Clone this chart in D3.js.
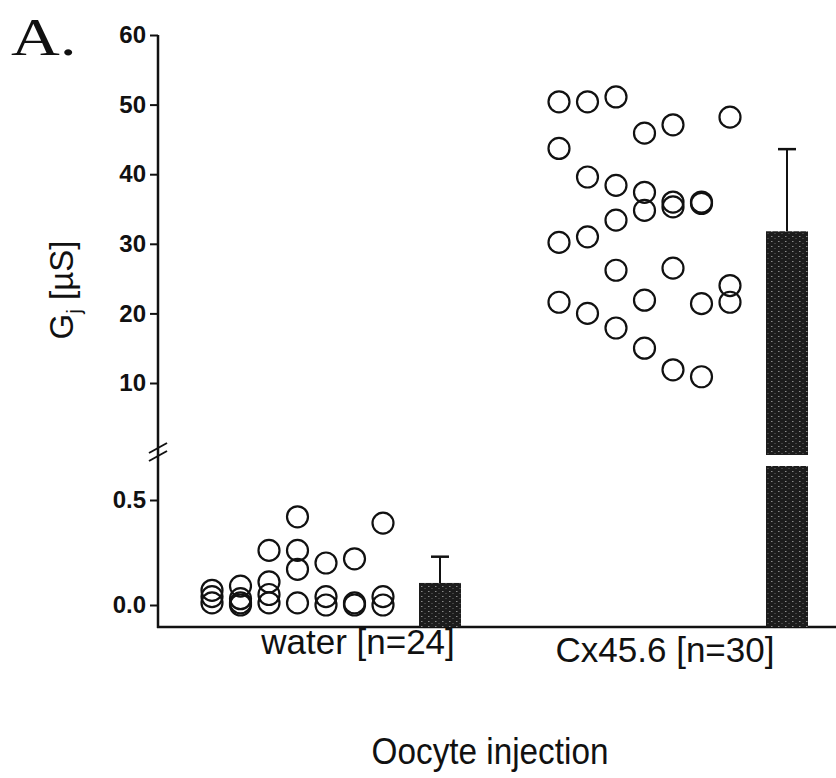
<!DOCTYPE html>
<html><head><meta charset="utf-8">
<script src="https://cdn.jsdelivr.net/npm/d3@7"></script>
<style>body{margin:0;background:#fff}svg{display:block}</style>
</head><body>
<script>
// ---- data ----
const groups = ["water", "Cx45.6"];
const groupLabels = ["water [n=24]", "Cx45.6 [n=30]"];
// water points: [column, value]
const waterCols = [0,0,0, 1,1,1,1, 2,2,2,2, 3,3,3,3, 4,4,4, 5,5,5, 6,6,6];
const waterVals = [0.07,0.04,0.01, 0.09,0.03,0.01,0.0, 0.26,0.11,0.05,0.01, 0.42,0.26,0.17,0.01, 0.20,0.04,0.0, 0.22,0.01,0.0, 0.39,0.04,0.0];
// Cx45.6 points
const cxCols = [0,1,2,3,4,6, 0,1,2,3,3,4,4,5,5,2, 0,1,2,4,6,6,5,3,0,1,2,3,4,5];
const cxVals = [50.4,50.4,51.1,45.9,47.1,48.2, 43.7,39.6,38.4,37.4,34.8,36.0,35.3,35.8,36.0,33.4, 30.2,31.0,26.2,26.5,24.0,21.6,21.4,21.9,21.6,20.0,17.9,15.0,11.9,10.9];
const means = [0.105, 31.8];
const errs = [0.125, 11.8];
const upperTicks = [10, 20, 30, 40, 50, 60];
const lowerTicks = [0.0, 0.5];

// ---- layout ----
const W = 836, H = 778;
const axisX = 158, baseY = 627;
const upperTop = 35, upperBottom = 455;
const lowerTop = 466;
const svg = d3.select("body").append("svg").attr("width", W).attr("height", H);

// bar texture
const pat = svg.append("defs").append("pattern").attr("id", "tex").attr("patternUnits", "userSpaceOnUse")
  .attr("width", 7).attr("height", 5);
pat.append("rect").attr("width", 7).attr("height", 5).attr("fill", "#1c1c1c");
pat.append("rect").attr("x", 1).attr("y", 1).attr("width", 1.5).attr("height", 1).attr("fill", "#8a8a8a");
pat.append("rect").attr("x", 4.5).attr("y", 3).attr("width", 1).attr("height", 1).attr("fill", "#6a6a6a");

const yU = d3.scaleLinear().domain([0, 60]).range([452.6, 35]);
const yL = d3.scaleLinear().domain([0, 0.5]).range([605, 500]);
const xGroup = d3.scalePoint().domain(groups).range([212, 559]);
const xCol = d3.scaleLinear().domain([0, 8]).range([0, 228]);
const barCol = 8, barW = 42, capW = 18, r = 10.5;

const font = "Arial, 'Liberation Sans', sans-serif";

// axes
const axU = d3.axisLeft(yU).tickValues(upperTicks).tickSize(8).tickPadding(4).tickFormat(d3.format("d"));
const axL = d3.axisLeft(yL).tickValues(lowerTicks).tickSize(8).tickPadding(4).tickFormat(d3.format(".1f"));
[axU, axL].forEach(ax => {
  const g = svg.append("g").attr("transform", `translate(${axisX},0)`).call(ax);
  g.select(".domain").remove();
  g.selectAll("line").attr("stroke", "#111").attr("stroke-width", 2);
  g.selectAll("text").attr("font-family", font).attr("font-size", 24).attr("font-weight", "bold").attr("fill", "#111");
});
// axis line
svg.append("line").attr("x1", axisX).attr("x2", axisX).attr("y1", upperTop).attr("y2", baseY + 1)
  .attr("stroke", "#111").attr("stroke-width", 2.5);
// baseline
svg.append("line").attr("x1", axisX - 1).attr("x2", W).attr("y1", baseY).attr("y2", baseY)
  .attr("stroke", "#111").attr("stroke-width", 2.5);
// break marks
[448, 456].forEach(y => {
  svg.append("line").attr("x1", axisX - 9).attr("y1", y + 5).attr("x2", axisX + 9).attr("y2", y - 5)
    .attr("stroke", "#111").attr("stroke-width", 2);
});

// bars
groups.forEach((g, i) => {
  const cx = xGroup(g) + xCol(barCol);
  const fill = "url(#tex)";
  if (i === 0) {
    svg.append("rect").attr("x", cx - barW / 2).attr("y", yL(means[i])).attr("width", barW)
      .attr("height", baseY - yL(means[i])).attr("fill", fill);
    const top = yL(means[i] + errs[i]);
    svg.append("line").attr("x1", cx).attr("x2", cx).attr("y1", top).attr("y2", yL(means[i])).attr("stroke", "#111").attr("stroke-width", 2);
    svg.append("line").attr("x1", cx - capW / 2).attr("x2", cx + capW / 2).attr("y1", top).attr("y2", top).attr("stroke", "#111").attr("stroke-width", 2.5);
  } else {
    svg.append("rect").attr("x", cx - barW / 2).attr("y", lowerTop).attr("width", barW)
      .attr("height", baseY - lowerTop).attr("fill", fill);
    svg.append("rect").attr("x", cx - barW / 2).attr("y", yU(means[i])).attr("width", barW)
      .attr("height", upperBottom - yU(means[i])).attr("fill", fill);
    const top = yU(means[i] + errs[i]);
    svg.append("line").attr("x1", cx).attr("x2", cx).attr("y1", top).attr("y2", yU(means[i])).attr("stroke", "#111").attr("stroke-width", 2);
    svg.append("line").attr("x1", cx - capW / 2).attr("x2", cx + capW / 2).attr("y1", top).attr("y2", top).attr("stroke", "#111").attr("stroke-width", 2.5);
  }
});

// points
const pts = waterCols.map((c, k) => ({ x: xGroup("water") + xCol(c), y: yL(waterVals[k]) }))
  .concat(cxCols.map((c, k) => ({ x: xGroup("Cx45.6") + xCol(c), y: yU(cxVals[k]) })));
svg.append("g").selectAll("circle").data(pts).join("circle")
  .attr("cx", d => d.x).attr("cy", d => d.y).attr("r", r)
  .attr("fill", "none").attr("stroke", "#111").attr("stroke-width", 2.2);

// category labels
const labelOff = [146, 106], labelY = [654, 662];
groups.forEach((g, i) => {
  svg.append("text").attr("x", xGroup(g) + labelOff[i]).attr("y", labelY[i])
    .attr("text-anchor", "middle").attr("font-family", font).attr("font-size", 35).attr("fill", "#111")
    .text(groupLabels[i]);
});
// x title
svg.append("text").attr("transform", "translate(490,764) scale(0.9,1)").attr("text-anchor", "middle")
  .attr("font-family", font).attr("font-size", 37).attr("fill", "#111").text("Oocyte injection");
// y title
const yt = svg.append("text").attr("transform", "translate(73,290) rotate(-90)").attr("text-anchor", "middle")
  .attr("font-family", font).attr("font-size", 33).attr("fill", "#111");
yt.append("tspan").text("G");
yt.append("tspan").attr("dy", 8).attr("font-size", 21).text("j");
yt.append("tspan").attr("dy", -8).text(" [\u00b5S]");
// panel letter
svg.append("text").attr("transform", "translate(11,55) scale(1.3,1)")
  .attr("font-family", "'Liberation Serif', 'Times New Roman', serif")
  .attr("font-size", 52).attr("fill", "#111").text("A.");
</script>
</body></html>
